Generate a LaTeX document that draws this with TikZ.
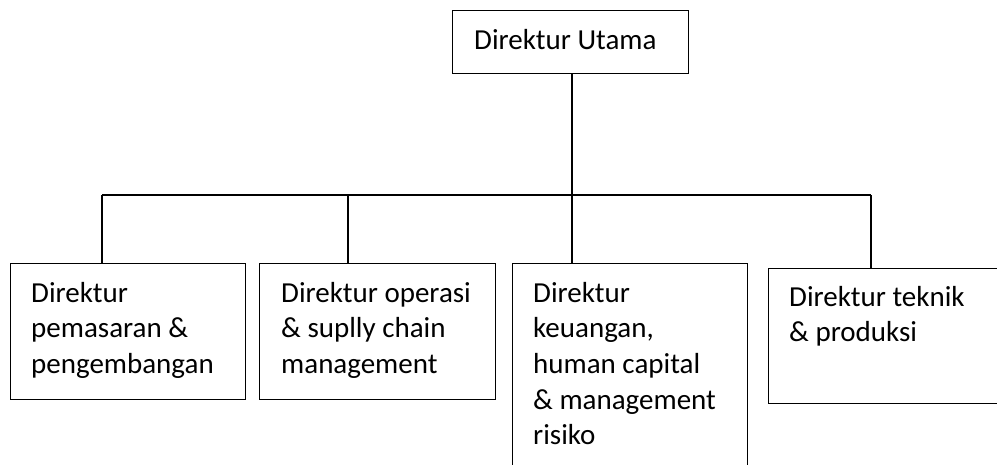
\documentclass[tikz,border=0pt]{standalone}
\usepackage{fontspec}
\setmainfont{Carlito}
\newcommand{\boxtext}[1]{\parbox[t]{220pt}{\fontsize{29}{35.7}\selectfont #1}}
\begin{document}
\begin{tikzpicture}[x=1pt,y=-1pt,
  box/.style={draw=black,line width=1.2pt,rectangle,inner sep=0pt,anchor=north west},
  lbl/.style={anchor=base west,inner sep=0pt},
  link/.style={draw=black,line width=1.2pt}]
\clip (0,0) rectangle (997,464);
% boxes
\node[box,minimum width=236pt,minimum height=63pt] (top) at (452,10) {};
\node[box,minimum width=235pt,minimum height=136pt] (b1) at (10,263) {};
\node[box,minimum width=236pt,minimum height=136pt] (b2) at (259,263) {};
\node[box,minimum width=235pt,minimum height=230pt] (b3) at (512,263) {};
\node[box,minimum width=260pt,minimum height=135pt] (b4) at (768,268) {};
% labels
\node[lbl] (ttop) at (474,49) {\boxtext{Direktur Utama}};
\node[lbl] (t1) at (31,302) {\boxtext{Direktur\\pemasaran \&\\pengembangan}};
\node[lbl] (t2) at (281,302) {\boxtext{Direktur operasi\\\& suplly chain\\management}};
\node[lbl] (t3) at (533,302) {\boxtext{Direktur\\keuangan,\\human capital\\\& management\\risiko}};
\node[lbl] (t4) at (789,306) {\boxtext{Direktur teknik\\\& produksi}};
% connectors
\coordinate (j1) at (102,195);
\coordinate (j2) at (348,195);
\coordinate (j3) at (572,195);
\coordinate (j4) at (871,195);
\draw[link] (top.south -| j3) -- (j3);
\draw[link] (j1) -- (j4);
\draw[link] (j1) -- (j1 |- b1.north);
\draw[link] (j2) -- (j2 |- b2.north);
\draw[link] (j3) -- (j3 |- b3.north);
\draw[link] (j4) -- (j4 |- b4.north);
\end{tikzpicture}
\end{document}
